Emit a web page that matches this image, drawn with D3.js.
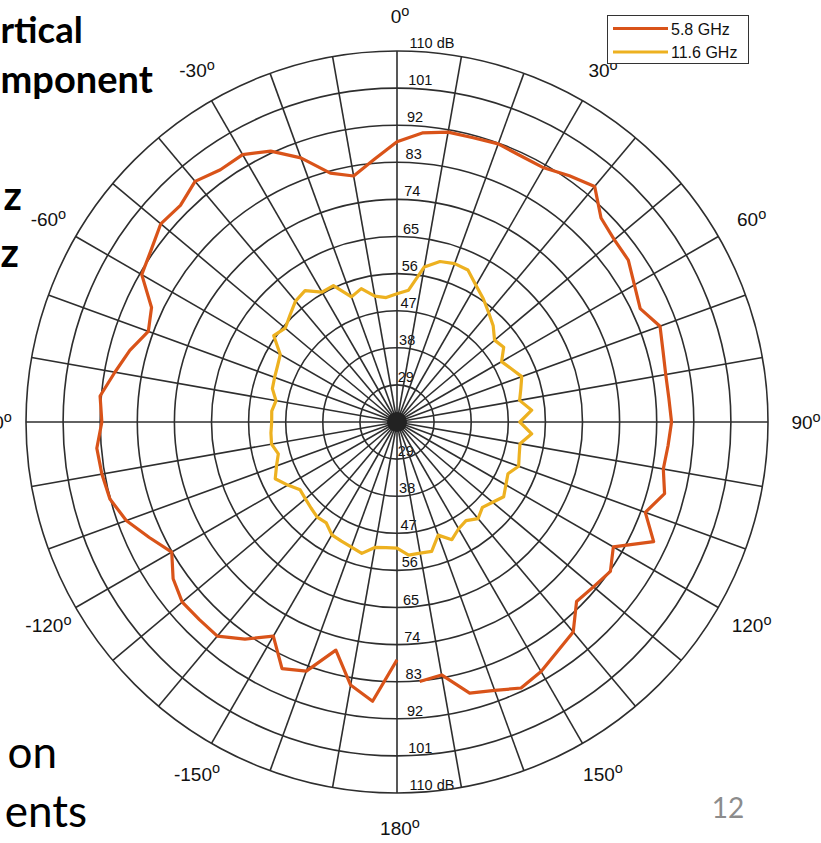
<!DOCTYPE html>
<html><head><meta charset="utf-8">
<script src="https://cdn.jsdelivr.net/npm/d3@7"></script>
<style>body{margin:0;background:#fff;overflow:hidden} svg{display:block}</style>
</head><body>
<svg id="chart" width="821" height="843"></svg>
<script>
// ---- data ----
const anglesDeg = [-180,-175,-170,-165,-160,-155,-150,-145,-140,-135,-130,-125,-120,-115,-110,-105,-100,-95,-90,-85,-80,-75,-70,-65,-60,-55,-50,-45,-40,-35,-30,-25,-20,-15,-10,-5,0,5,10,15,20,25,30,35,40,45,50,55,60,65,70,75,80,85,90,95,100,105,110,115,120,125,130,135,140,145,150,155,160,165,170,175];
const series58 = [77.7,88.0,84.8,77.3,84.3,86.0,80.0,84.3,87.8,87.8,88.0,86.3,83.1,86.3,89.9,92.1,92.7,93.1,91.6,92.3,89.5,87.1,84.2,85.7,91.5,92.8,94.8,94.3,96.2,94.7,94.9,92.5,88.2,82.5,80.6,83.9,88.0,90.4,91.4,91.4,91.8,91.2,91.2,92.9,94.6,90.0,88.8,88.5,86.5,85.1,87.9,86.8,86.2,86.2,86.6,86.0,85.6,87.2,84.1,88.7,80.6,83.2,82.2,81.6,86.5,87.9,89.9,91.2,89.3,88.1,82.3,83.2];
const series116 = [50.6,50.6,50.9,53.0,52.3,51.9,51.6,49.9,50.1,49.5,49.0,48.7,50.6,52.6,51.1,49.8,50.9,50.7,50.4,50.5,49.8,51.3,51.6,52.0,52.7,56.5,55.4,56.7,58.3,58.9,56.4,56.5,52.3,53.5,51.0,50.3,51.1,52.1,58.2,60.3,60.9,60.7,58.3,56.5,54.6,53.0,50.9,51.6,49.3,50.6,52.2,51.1,50.2,52.8,49.8,52.8,50.3,50.7,51.4,49.7,50.5,51.6,50.3,49.3,50.6,49.2,49.9,51.5,49.2,52.5,52.3,52.4];
const seriesNames = ["5.8 GHz","11.6 GHz"];
const seriesColors = ["#D95319","#EDB120"];
const ringValues = [29,38,47,56,65,74,83,92,101,110];
const ringLabels = ["29","38","47","56","65","74","83","92","101","110 dB"];
const spokeAngles = [0,10,20,30,40,50,60,70,80,90,100,110,120,130,140,150,160,170,180,190,200,210,220,230,240,250,260,270,280,290,300,310,320,330,340,350];
const angleTicks = [0,30,60,90,120,150,180,-150,-120,-90,-60,-30];
const rMin = 20, rMax = 110;

// ---- layout ----
const svg = d3.select("#chart");
const cx = 397, cy = 422, R = 371;
const r = d3.scaleLinear().domain([rMin, rMax]).range([0, R]);
const a = d3.scaleLinear().domain([-180, 180]).range([-Math.PI, Math.PI]);
const gridColor = "#2e2e2e";
const chartFont = "'Liberation Sans', Arial, sans-serif";

// slide text (background, partly off-slide in the reference)
const slide = svg.append("g").attr("font-family", "Lato, 'Open Sans', sans-serif").attr("fill", "#000");
slide.append("text").attr("x", 0.5).attr("y", 43).attr("font-weight","bold").attr("font-size", 36.5).text("rtical");
slide.append("text").attr("x", 0.5).attr("y", 93).attr("font-weight","bold").attr("font-size", 38).text("mponent");
slide.append("text").attr("x", 22).attr("y", 210).attr("text-anchor","end").attr("font-weight","bold").attr("font-size", 40).text("z");
slide.append("text").attr("x", 19).attr("y", 267).attr("text-anchor","end").attr("font-weight","bold").attr("font-size", 40).text("z");
slide.append("text").attr("x", 57).attr("y", 768).attr("text-anchor","end").attr("font-size", 44).text("on");
slide.append("text").attr("x", 87).attr("y", 827).attr("text-anchor","end").attr("font-size", 44).text("ents");
slide.append("text").attr("x", 728).attr("y", 818).attr("text-anchor","middle").attr("font-size", 28).attr("fill","#8c8c8c").text("12");

const g = svg.append("g").attr("transform", `translate(${cx},${cy})`);

// ring labels (top and bottom)
const lab = g.append("g").attr("font-family", chartFont).attr("font-size", 14.5).attr("fill", "#111");
ringValues.forEach((v, i) => {
  const rr = r(v);
  const x = rr * 0.035 - 0.5;
  lab.append("text").attr("x", x).attr("y", -rr - 3).text(ringLabels[i]);
  lab.append("text").attr("x", x).attr("y", rr - 3).text(ringLabels[i]);
});

// grid
const grid = g.append("g").attr("fill", "none").attr("stroke", gridColor).attr("stroke-width", 1.6);
grid.selectAll("circle.ring").data(ringValues).join("circle")
  .attr("class","ring").attr("r", d => r(d));
grid.selectAll("line.spoke").data(spokeAngles).join("line")
  .attr("class","spoke")
  .attr("x1", 0).attr("y1", 0)
  .attr("x2", d => R * Math.sin(a(d)))
  .attr("y2", d => -R * Math.cos(a(d)));
g.append("circle").attr("r", 10).attr("fill", "#222");

// angle labels
const alab = g.append("g").attr("font-family", chartFont).attr("font-size", 19).attr("fill", "#111").attr("text-anchor","middle");
angleTicks.forEach(t => {
  const RL = 406;
  const x = RL * Math.sin(a(t)), y = -RL * Math.cos(a(t));
  const txt = alab.append("text").attr("x", x + 3).attr("y", y + 7);
  txt.append("tspan").text(String(t));
  txt.append("tspan").attr("dy", -7.5).attr("font-size", 14.5).text("o");
});

// data lines
const pts58 = anglesDeg.map((d, i) => [a(d), r(series58[i])]);
const pts116 = anglesDeg.map((d, i) => [a(d), r(series116[i])]);
const lineOpen = d3.lineRadial();
const lineClosed = d3.lineRadial().curve(d3.curveLinearClosed);
g.append("path").attr("d", lineOpen(pts58)).attr("fill","none").attr("stroke", seriesColors[0]).attr("stroke-width", 3.2).attr("stroke-linejoin","round");
g.append("path").attr("d", lineClosed(pts116)).attr("fill","none").attr("stroke", seriesColors[1]).attr("stroke-width", 3.2).attr("stroke-linejoin","round");

// legend
const leg = svg.append("g").attr("font-family", chartFont);
leg.append("rect").attr("x", 607.5).attr("y", 15.5).attr("width", 141).attr("height", 48).attr("fill","#fff").attr("stroke","#333").attr("stroke-width",1);
seriesNames.forEach((n, i) => {
  const y = 28.5 + i * 23.5;
  leg.append("line").attr("x1", 613).attr("x2", 668).attr("y1", y).attr("y2", y).attr("stroke", seriesColors[i]).attr("stroke-width", 3);
  leg.append("text").attr("x", 671).attr("y", y + 6).attr("font-size", 16).attr("fill","#111").text(n);
});
</script>
</body></html>
